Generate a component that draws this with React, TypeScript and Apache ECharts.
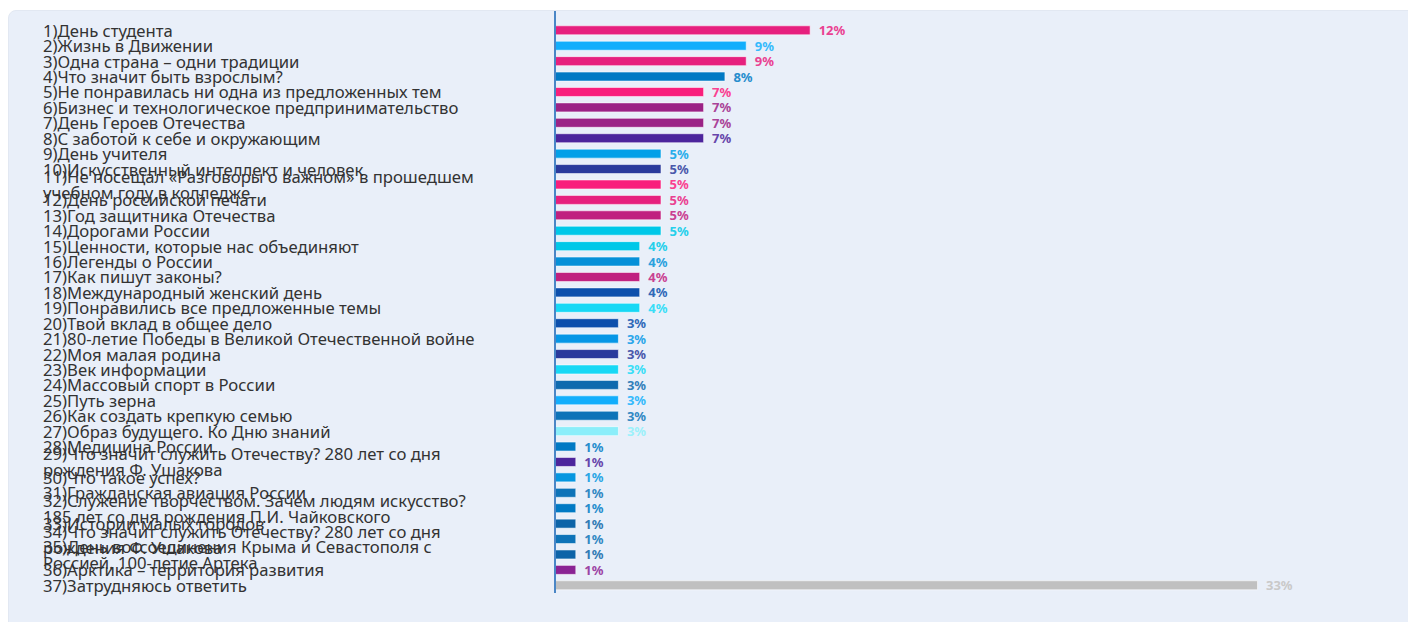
import React, { useEffect, useRef } from "react";
import * as echarts from "echarts";

const categories: string[] = [
  "1)День студента",
  "2)Жизнь в Движении",
  "3)Одна страна – одни традиции",
  "4)Что значит быть взрослым?",
  "5)Не понравилась ни одна из предложенных тем",
  "6)Бизнес и технологическое предпринимательство",
  "7)День Героев Отечества",
  "8)С заботой к себе и окружающим",
  "9)День учителя",
  "10)Искусственный интеллект и человек",
  "11)Не посещал «Разговоры о важном» в прошедшем\nучебном году в колледже",
  "12)День российской печати",
  "13)Год защитника Отечества",
  "14)Дорогами России",
  "15)Ценности, которые нас объединяют",
  "16)Легенды о России",
  "17)Как пишут законы?",
  "18)Международный женский день",
  "19)Понравились все предложенные темы",
  "20)Твой вклад в общее дело",
  "21)80-летие Победы в Великой Отечественной войне",
  "22)Моя малая родина",
  "23)Век информации",
  "24)Массовый спорт в России",
  "25)Путь зерна",
  "26)Как создать крепкую семью",
  "27)Образ будущего. Ко Дню знаний",
  "28)Медицина России",
  "29)Что значит служить Отечеству? 280 лет со дня\nрождения Ф. Ушакова",
  "30)Что такое успех?",
  "31)Гражданская авиация России",
  "32)Служение творчеством. Зачем людям искусство?\n185 лет со дня рождения П.И. Чайковского",
  "33)Истории малых городов",
  "34)Что значит служить Отечеству? 280 лет со дня\nрождения Ф. Ушакова",
  "35)День воссоединения Крыма и Севастополя с\nРоссией. 100-летие Артека",
  "36)Арктика – территория развития",
  "37)Затрудняюсь ответить",
];

const values: number[] = [
  12, 9, 9, 8, 7, 7, 7, 7, 5, 5, 5, 5, 5, 5, 4, 4, 4, 4, 4, 3, 3, 3, 3, 3, 3, 3, 3,
  1, 1, 1, 1, 1, 1, 1, 1, 1, 33,
];

const barColors: string[] = [
  "#e6207e", "#12aefc", "#e6207e", "#0079c4", "#f91f7c", "#9b2386", "#9b2386", "#4c259c",
  "#03a0e8", "#2a3a9c", "#f91f7c", "#e6207e", "#c0207f", "#00c8e8", "#00c8e8", "#0590d8",
  "#c0207f", "#0c4fac", "#17d8f5", "#0c4fac", "#0596e6", "#2a3a9c", "#17d8f5", "#0f6aae",
  "#12aefc", "#0d73b8", "#8beefa", "#0079c4", "#4c259c", "#0596e0", "#0d73b8", "#0079c4",
  "#0d64a8", "#0d73b8", "#0d64a8", "#8a2394", "#c0c0c0",
];

function lighten(hex: string, t: number): string {
  const n = parseInt(hex.slice(1), 16);
  const r = (n >> 16) & 255, g = (n >> 8) & 255, b = n & 255;
  const m = (c: number) => Math.round(c + (255 - c) * t);
  return `rgb(${m(r)},${m(g)},${m(b)})`;
}

export default function App() {
  const ref = useRef<HTMLDivElement>(null);
  useEffect(() => {
    if (!ref.current) return;
    const chart = echarts.init(ref.current, undefined, { renderer: "svg" });
    const font = "'Noto Sans', 'Open Sans', sans-serif";
    chart.setOption({
      animation: false,
      grid: { left: 555, right: 150, top: 22.6, bottom: 29, containLabel: false },
      xAxis: {
        type: "value",
        min: 0,
        max: 33,
        show: false,
      },
      yAxis: {
        type: "category",
        inverse: true,
        data: categories,
        axisLine: { show: false },
        axisTick: { show: false },
        splitLine: { show: false },
        axisLabel: {
          interval: 0,
          hideOverlap: false,
          align: "left",
          margin: 512,
          color: "#333",
          fontSize: 16.7,
          lineHeight: 16,
          fontFamily: font,
        },
      },
      graphic: [
        {
          type: "line",
          shape: { x1: 555, y1: 11, x2: 555, y2: 593 },
          style: { stroke: "#4a86c6", lineWidth: 2 },
          z: 10,
        },
      ],
      series: [
        {
          type: "bar",
          barWidth: 10,
          data: values.map((v, i) => ({
            value: v,
            itemStyle: {
              color: barColors[i],
              borderColor: "rgba(255,255,255,0.55)",
              borderWidth: 1,
            },
            label: { color: lighten(barColors[i], 0.15) },
          })),
          label: {
            show: true,
            position: "right",
            distance: 8,
            formatter: "{c}%",
            fontSize: 13,
            fontWeight: "bold",
            fontFamily: font,
          },
        },
      ],
    });
    return () => chart.dispose();
  }, []);
  return (
    <div style={{ position: "absolute", left: 0, top: 0, width: 1408, height: 622, background: "#fff" }}>
      <div
        style={{
          position: "absolute",
          left: 8,
          top: 10,
          width: 1410,
          height: 620,
          background: "#e9eff9",
          borderRadius: 8,
          border: "1px solid #e2e8f2",
        }}
      />
      <div ref={ref} style={{ position: "absolute", left: 0, top: 0, width: 1408, height: 622 }} />
    </div>
  );
}
